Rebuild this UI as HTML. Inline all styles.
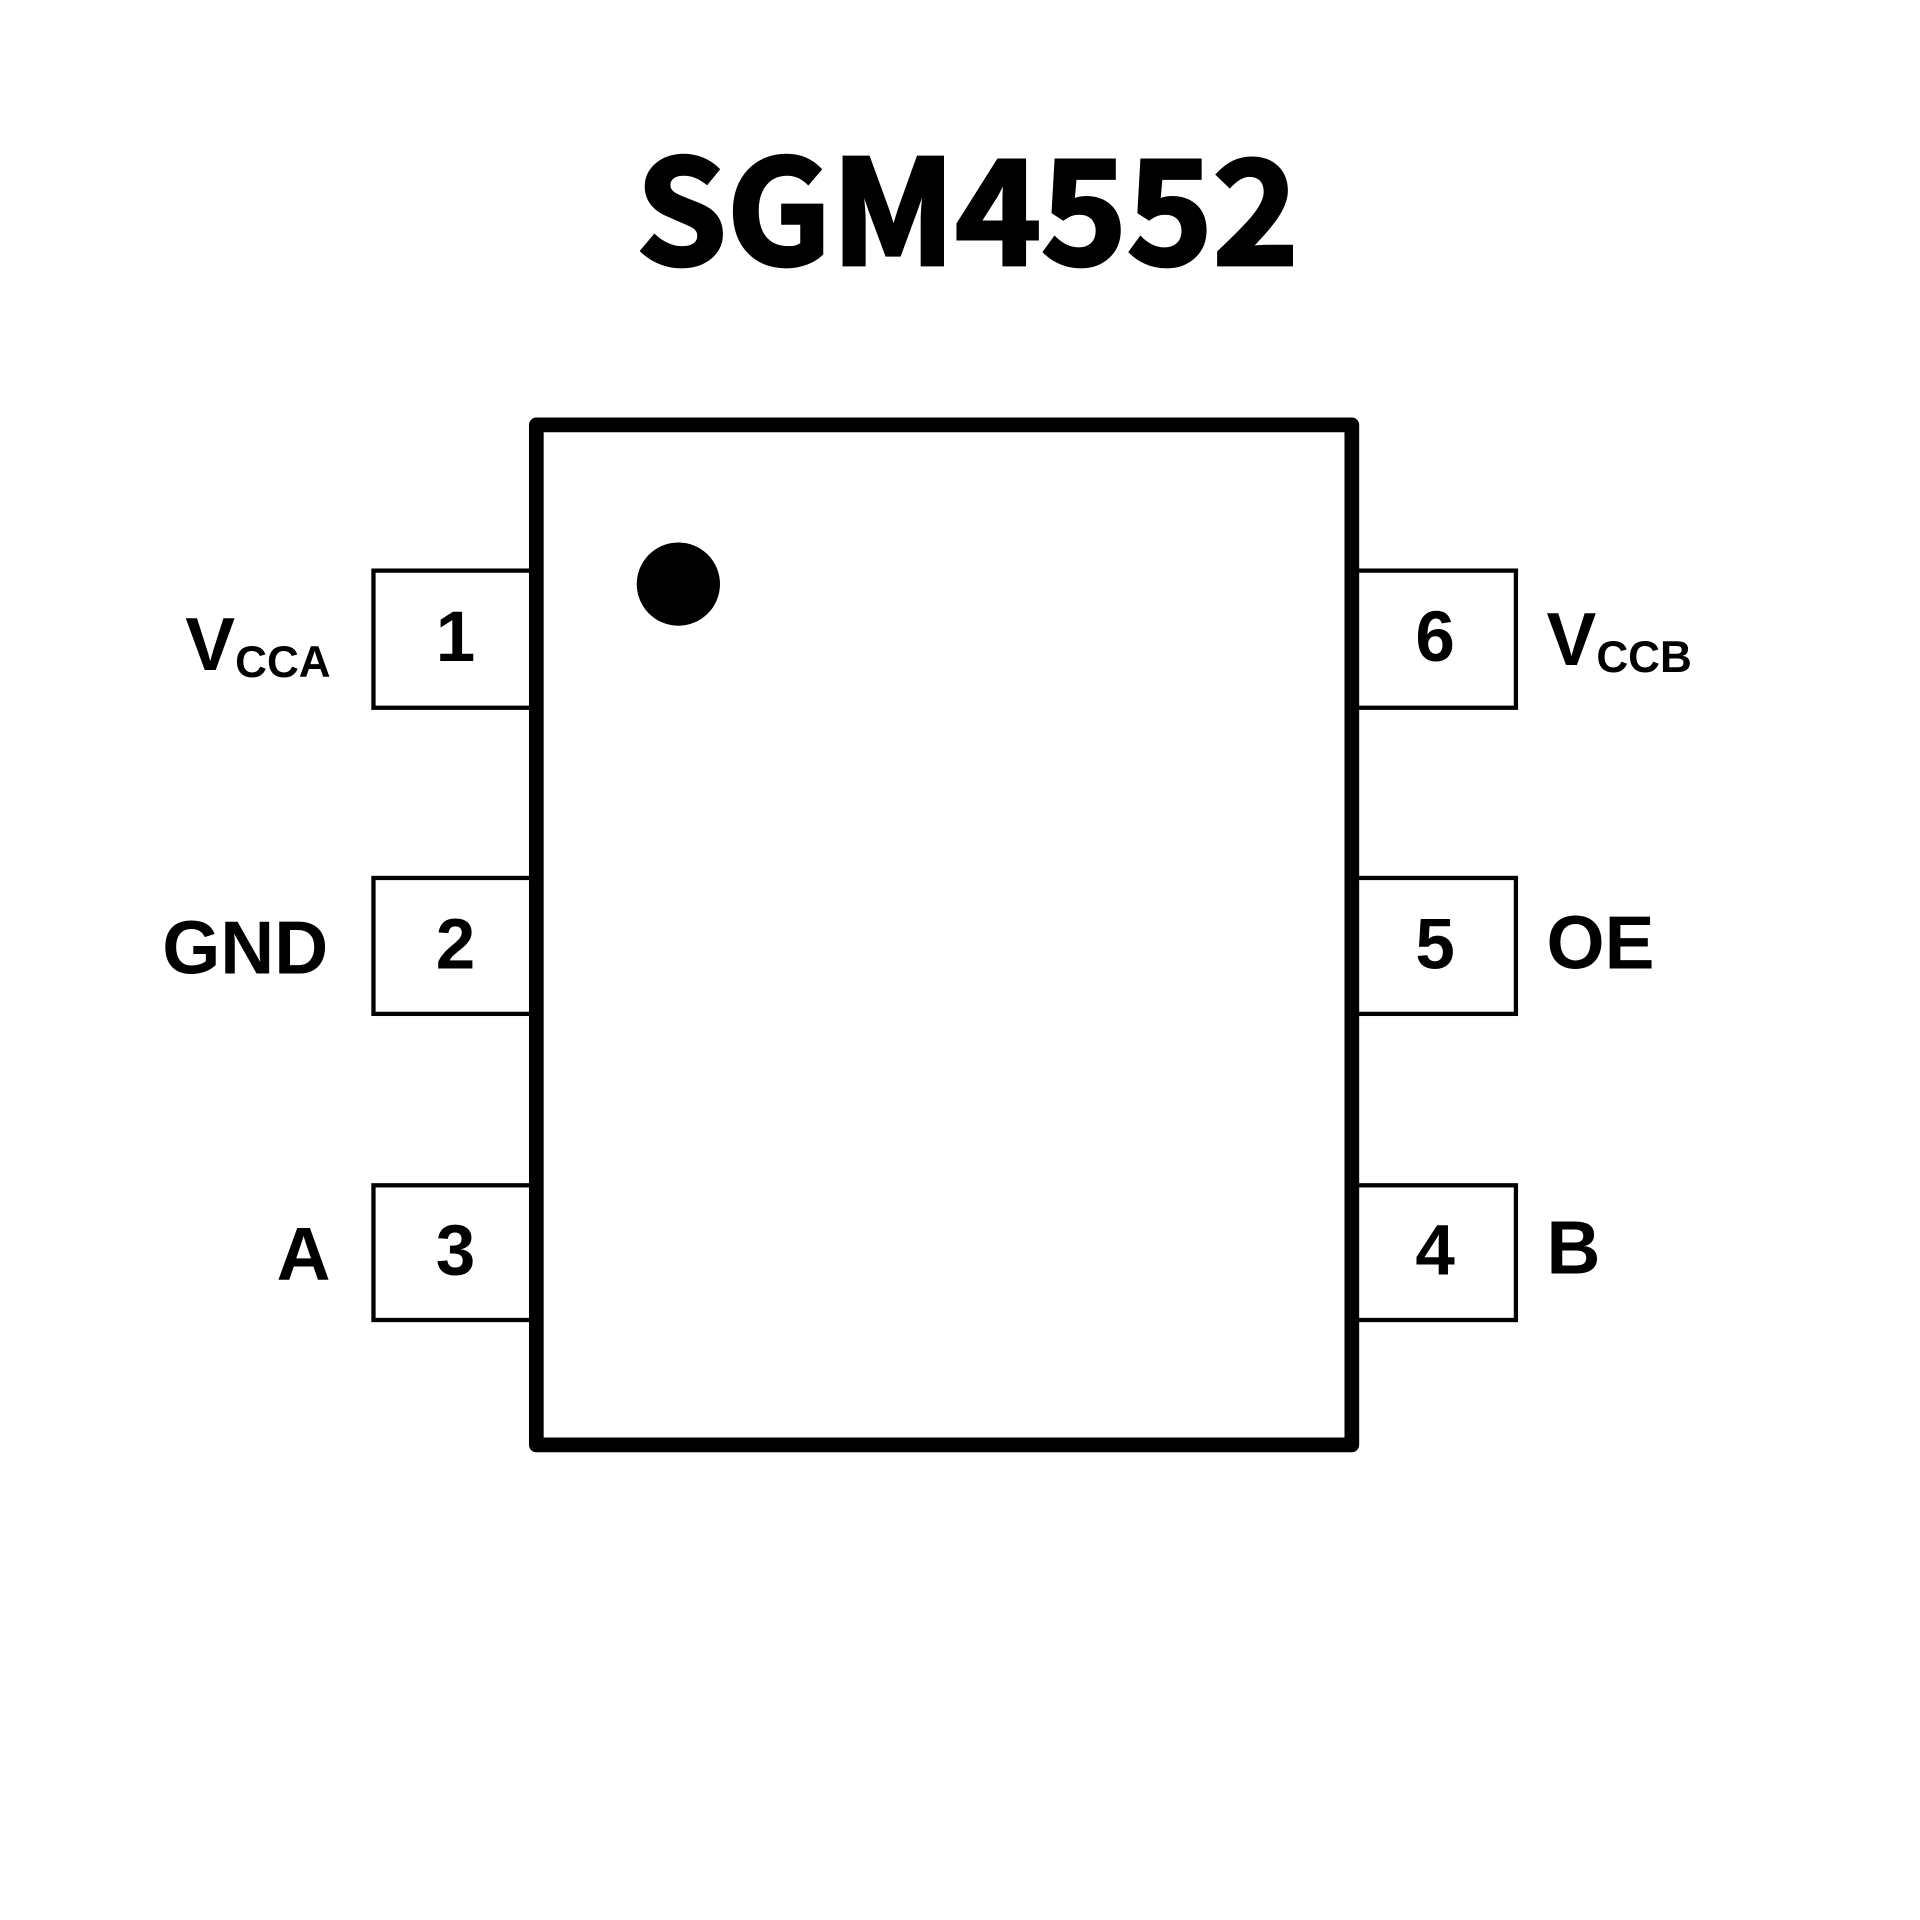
<!DOCTYPE html>
<html><head><meta charset="utf-8"><style>html,body{margin:0;padding:0;background:#fff}svg{display:block}</style></head>
<body>
<svg width="1920" height="1920" viewBox="0 0 1568 1568" xmlns="http://www.w3.org/2000/svg">
<rect width="1568" height="1568" fill="#fff"/>
<text x="790" y="216" text-anchor="middle" font-family="'Noto Sans CJK SC','DejaVu Sans',sans-serif" font-weight="bold" font-size="118" textLength="541" lengthAdjust="spacingAndGlyphs" stroke="#000" stroke-width="3">SGM4552</text>
<g fill="none" stroke="#000" stroke-width="3.5">
<rect x="305" y="466" width="130" height="112"/>
<rect x="305" y="717" width="130" height="111"/>
<rect x="305" y="968" width="130" height="110"/>
<rect x="1107" y="466" width="131" height="112"/>
<rect x="1107" y="717" width="131" height="111"/>
<rect x="1107" y="968" width="131" height="110"/>
</g>
<rect x="438" y="347" width="666" height="833" fill="#fff" stroke="#000" stroke-width="12" stroke-linejoin="round"/>
<circle cx="554" cy="477" r="34" fill="#000"/>
<g font-family="'Liberation Sans',Arial,sans-serif" font-weight="bold" font-size="58" fill="#000">
<text x="372" y="540" text-anchor="middle">1</text>
<text x="372" y="791" text-anchor="middle">2</text>
<text x="372" y="1041" text-anchor="middle">3</text>
<text x="1172" y="540" text-anchor="middle">6</text>
<text x="1172" y="791" text-anchor="middle">5</text>
<text x="1172" y="1041" text-anchor="middle">4</text>
</g>
<g font-family="'Liberation Sans',Arial,sans-serif" font-weight="bold" fill="#000">
<text x="270" y="547" text-anchor="end" font-size="61">V<tspan font-size="36" dy="6">CCA</tspan></text>
<text x="268" y="795" text-anchor="end" font-size="61">GND</text>
<text x="270" y="1045" text-anchor="end" font-size="61">A</text>
<text x="1263" y="543" font-size="61">V<tspan font-size="36" dy="6">CCB</tspan></text>
<text x="1263" y="791" font-size="61">OE</text>
<text x="1263" y="1040" font-size="61">B</text>
</g>
</svg>
</body></html>
